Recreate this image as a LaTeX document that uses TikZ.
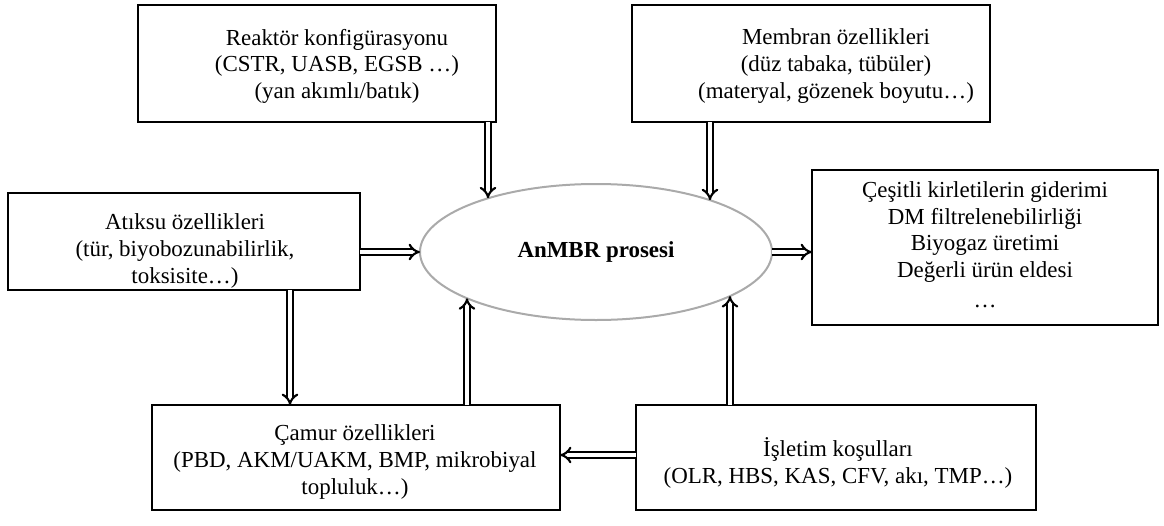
\documentclass[tikz,border=0pt]{standalone}
\usepackage{fontspec}
\setmainfont{Liberation Serif}
\usetikzlibrary{arrows.meta,shapes.geometric}
\begin{document}
\begin{tikzpicture}[x=0.75pt,y=-0.75pt,
  box/.style={draw=black,line width=1.5pt,rectangle,inner sep=0pt,outer sep=0pt},
  txt/.style={align=center,inner sep=0pt,font=\fontsize{17.2}{19.9}\selectfont},
  dbl/.style={double=white,draw=black,line width=1.6pt,double distance=2.5pt,-{Implies[length=7pt,width=13pt]}}]
\useasboundingbox[fill=white] (0,0) rectangle (1164,525);
\node[box,minimum width=268.5pt,minimum height=87.75pt] (b1) at (317,63.5) {};
\node[txt] (b1t) at (337,66) {Reaktör konfigürasyonu\\(CSTR, UASB, EGSB …)\\(yan akımlı/batık)};
\node[box,minimum width=268.5pt,minimum height=87.75pt] (b2) at (811,63.5) {};
\node[txt] (b2t) at (836,66) {Membran özellikleri\\(düz tabaka, tübüler)\\(materyal, gözenek boyutu…)};
\node[box,minimum width=264pt,minimum height=72.75pt] (b3) at (184,241.5) {};
\node[txt] (b3t) at (185,251) {Atıksu özellikleri\\(tür, biyobozunabilirlik,\\toksisite…)};
\node[box,minimum width=259.5pt,minimum height=116.25pt] (b4) at (985,247.5) {};
\node[txt] (b4t) at (985,245) {Çeşitli kirletilerin giderimi\\DM filtrelenebilirliği\\Biyogaz üretimi\\Değerli ürün eldesi\\[3pt]…};
\node[box,minimum width=306pt,minimum height=78.75pt] (b5) at (356,457.5) {};
\node[txt] (b5t) at (355,462) {Çamur özellikleri\\(PBD, AKM/UAKM, BMP, mikrobiyal\\topluluk…)};
\node[box,minimum width=300pt,minimum height=78.75pt] (b6) at (836,457.5) {};
\node[txt] (b6t) at (838,463) {İşletim koşulları\\[1pt](OLR, HBS, KAS, CFV, akı, TMP…)};
\node[ellipse,draw={rgb,255:red,170;green,170;blue,170},line width=1.5pt,inner sep=0pt,outer sep=0pt,
  minimum width=264pt,minimum height=102pt,font=\fontsize{17.2}{19.9}\selectfont\bfseries] (ell) at (596,252) {AnMBR prosesi};
\coordinate (t1) at (488,198.3);
\coordinate (t2) at (710,200.2);
\coordinate (t6) at (467,298.3);
\coordinate (t7) at (730,296.1);
\coordinate (x290) at (290,0);
\coordinate (y455) at (0,455);
\draw[dbl] (b1.south -| t1) -- (t1);
\draw[dbl] (b2.south -| t2) -- (t2);
\draw[dbl] (b3.east |- ell.west) -- (ell.west);
\draw[dbl] (ell.east) -- (b4.west |- ell.east);
\draw[dbl] (b3.south -| x290) -- (b5.north -| x290);
\draw[dbl] (b5.north -| t6) -- (t6);
\draw[dbl] (b6.north -| t7) -- (t7);
\draw[dbl] (b6.west |- y455) -- (b5.east |- y455);
\end{tikzpicture}
\end{document}
